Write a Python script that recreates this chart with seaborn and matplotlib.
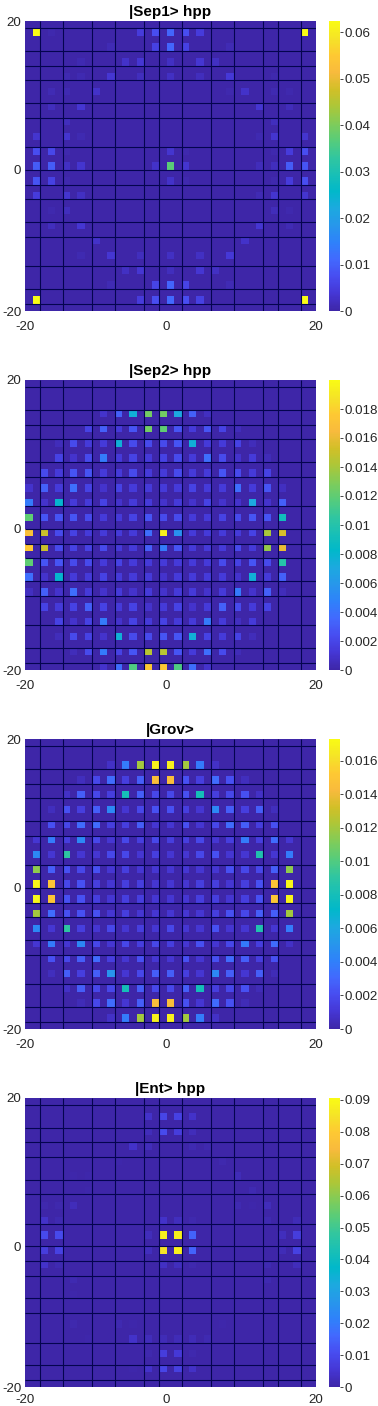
import numpy as np
import matplotlib
matplotlib.use('Agg')
import matplotlib.pyplot as plt
import seaborn as sns
from matplotlib.colors import LinearSegmentedColormap

# values are probabilities x 1000, one row per lit lattice row
sep1_vals = [
    [62.4,0.6,0,0,0,0,0,4.5,7.5,10.5,7.5,4.5,0,0,0,0,0,0,62.4],
    [0,0,0,0,0,1.2,0,0,5.5,10.5,5.5,0,0,1.2,0,0,0,0,0],
    [0,0,0,0.9,0,0,2.8,3.6,0,2.3,0,3.6,2.3,0,0,0,0,0,0],
    [0,0,0.9,0.9,0,3.6,0,1.9,0,2.3,0,1.9,0,4,0,0,0.6,0,0],
    [0,1.2,0.9,0,2.8,0,0,0,0,0,0,0,0,0.6,2.8,0,0.9,0.6,0],
    [0,1.9,0,3.6,0,0,0,0,0,0,0,0,0,0,0,3.6,0,1.5,0],
    [0,0,1.9,0,0,0,0,0,0,0,0,0,0,0,0,0,1.9,0,0],
    [3.2,0,3.2,0.9,0,0,0,0,0,0,0,0,0,0,0,0.9,3.2,0,3.2],
    [7.5,6.5,0.6,0,0,0,0,0,0,3.2,0.6,0,0,0,0,0,0.6,4.5,7.5],
    [9.5,9.5,2.3,3.2,0,0,0,0,2.8,37,3.2,0,0,0,0,1.5,1.9,9.5,8.5],
    [8.5,5.5,0.6,0,0,0,0,0,0,2.8,0.6,0,0,0,0,0,0.6,4.5,7.5],
    [4.5,0,3.2,2.3,0,0,0,0,0,0,0,0,0,0,0,1.2,3.2,0,3.2],
    [0,0.6,1.9,0,0,0,0,0,0,0,0,0,0,0,0,0,1.5,0.6,0],
    [0,1.9,0,3.6,0,0,0,0,0,0,0,0,0,0,0,3.6,0,1.2,0],
    [0,0,0,0,2.8,0,0,0,0,0,0,0,0,0,2.8,0,0,0,0],
    [0,0,0,0.9,0,3.6,0,1.9,0,2.3,0,2.3,0,4,0,0,0,0,0],
    [0,0,0,0,0,0,2.3,3.6,0,1.9,0,3.6,2.3,0,0,0,0,0,0],
    [0,0,0,0,0,1.2,0,0,6,10.5,6,0,0,1.2,0,0,0,0,0],
    [62.4,0,0,0,0,0,0,4.5,7.5,11,7.5,5.5,0,0,0,0,0,0,62.4],
]
sep2_vals = [
    [0]*20,
    [0]*20,
    [0,0,0,0,0,1,3.2,7.5,12.5,12.5,7,3.2,0.7,0,0,0,0,0,0,0],
    [0,0,0,0,1.8,3.2,1.4,2.7,12.5,12,2.7,1.4,2.7,1.8,0.5,0,0,0,0,0],
    [0,0,0.5,2.2,1.4,1.4,7.5,2.2,2.2,2.2,2.7,7.5,1.4,1.4,1.8,0.5,0,0,0,0],
    [0,0,1.8,1,2.2,4.4,1.4,1.8,1.4,1.8,2.2,1.4,3.8,2.2,1,1.4,0.4,0,0,0],
    [0,2.2,1.4,2.7,2.7,1.4,1.4,2.2,1.4,1.4,2.2,1.4,1.4,2.7,2.2,1.4,1.8,0,0,0],
    [1,3.2,1.4,3.8,1.8,1,1.8,1.4,1.4,1.4,1.4,1.8,1.4,1.4,3.8,1.4,2.7,0.7,0,0],
    [4.4,1,8,1.4,1.4,1.8,1,1.4,1.4,1,1.4,1,1.8,1,1,7,1,3.2,0,0],
    [12,2.7,2.7,2.7,2.2,1.4,1.4,1.8,2.7,2.2,2.2,1.4,1.4,1.8,2.2,2.7,2.7,9,0,0],
    [17,15,2.2,1.8,1.4,1.4,1.4,1.4,3.8,19.5,5.6,1.4,1.4,1.4,1.4,1.8,14,15.5,0,0],
    [17.5,15,2.2,1.8,1.8,2.2,1.4,1.4,3.2,4.4,2.7,1.4,1.4,1.4,2.2,1.4,13.5,16,0,0],
    [12,2.7,2.7,2.2,2.2,1.4,1.8,1.4,1.4,1.4,1.4,1.4,1.4,2.2,1.8,2.7,2.2,10,0,0],
    [3.8,1,8,1.4,1.4,1.8,1.4,1.4,1.4,1,1.4,1.4,1.4,1.4,1,7.5,1.4,3.2,0,0],
    [0.7,3.2,1,3.8,1.4,1,1.4,1,1.4,1,1.4,1.4,1,1.4,4.4,1,3.2,0.5,0,0],
    [0,1.8,1.4,1.8,3.2,1.8,1.4,1.8,1,1.4,1.8,1,1.4,3.2,2.2,1.4,1.8,0,0,0],
    [0,0,1.8,1,1.8,4.4,1,1.8,1.4,1.8,1.4,1.4,4.4,1.4,0.7,1.4,0,0,0,0],
    [0,0,0.5,2.2,1.8,1,7.5,2.2,2.2,2.7,2.7,7.5,1.8,1.4,1.8,0.5,0,0,0,0],
    [0,0,0,0.5,2.2,4.4,1.8,2.7,14.5,14.5,2.7,1.4,3.8,2.2,0.4,0,0,0,0,0],
    [0,0,0,0,0,1,3.8,11.5,17.5,17.5,11.5,3.8,1,0,0,0,0,0,0,0],
]
grov_vals = [
    [0]*19,
    [0,0,0,0,0,0.7,3.8,12,16.8,16.8,12,3.8,0.7,0,0,0,0,0,0],
    [0,0,0,0.5,1.8,3.2,1.4,2.7,14.5,14.5,2.2,1.4,3.2,2.2,0.5,0,0,0,0],
    [0,0,0.7,2.7,1.8,1.4,8,2.7,1.8,1.8,2.2,8,1.4,1.8,2.2,0.7,0,0,0],
    [0,0.5,2.2,1.4,2.7,4.4,1,1.8,2.2,2.2,1.4,1,4.4,2.7,1.4,2.7,0.5,0,0],
    [0,2.2,1.8,3.2,3.2,1.4,1.4,2.7,1,1,2.2,1,1.8,3.2,2.7,1.4,2.2,0,0],
    [1,3.8,1.4,4.4,1.8,1,1.8,1.4,1.8,1.4,1.4,1.8,1,1.4,3.8,1.4,3.2,1,0],
    [4.4,1,9,1,1,1.8,1.8,1,1.4,1,1,1.8,2.2,1,1,8.5,1,3.8,0],
    [11.5,2.7,2.2,1.8,2.2,1,1.4,1,1,1,1,1,1,2.2,1.8,1.8,2.7,11.5,0],
    [17,15,1.8,2.2,1.4,1,1.4,1.4,1,1,1,1.4,1.4,1,1.4,2.2,15,17,0],
    [17,15,2.2,2.2,1.4,1,1.4,1.4,1,1,1,1.4,1.4,1,1.4,2.2,15,17,0],
    [12,3.2,2.2,2.2,2.2,1,1.4,1,1,1,1,1,1.4,2.2,1.8,2.7,2.7,12,0],
    [4.4,1,9,1.4,1,1.8,1,1.4,1,1.8,1,1,2.2,1,1,8.5,1,3.8,0],
    [1,3.8,1,4.4,1.8,1,1.8,1.4,1.8,1.4,1,2.2,1,1.8,3.8,1.4,3.2,0.7,0],
    [0,2.2,1.8,2.7,3.2,1.4,1,2.2,1,1,2.2,1,2.2,3.2,2.7,1.4,2.2,0,0],
    [0,0.5,2.7,1.4,2.7,5,1,1.8,2.7,2.7,1.4,1,4.4,2.7,1,2.7,0.4,0,0],
    [0,0,0.7,2.7,1.8,1.8,8,2.7,1.8,1.8,2.7,8,1.4,1.8,2.2,0.4,0,0,0],
    [0,0,0,0.4,1.8,3.2,1,2.7,14.5,14.5,2.2,1,3.2,2.2,0.4,0,0,0,0],
    [0,0,0,0,0,0.7,3.8,12,16.8,16.8,12,3.8,0.7,0,0,0,0,0,0],
]
ent_vals = [
    [0]*20,
    [0,0,0,0,0,0,0,0,4,9,8,4,0,0,0,0,0,0,0,0],
    [0,0,0,0,0,0,0,0,2.2,10,7,2.2,0,0,0,0,0,0,0,0],
    [0,0,0,0,0,0,0,4,2.2,0,0,1.4,1,0,0,0,0,0,0,0],
    [0,0,0,0,0,0,0.7,0,0,0,0,0,0,1,0,0,0,0,0,0],
    [0,0,0,0.7,0.7,0,0,0,0,0,0,0,0,0,1.8,0,0,0,0,0],
    [0,0,0,0,0.7,0,0,0,0,0,0,0,0,0,0,1.4,0,0,0,0],
    [0,1,1,2.2,0,0,0,0,0,0,0,0,0,0,1.4,0.7,2.2,0,0,0],
    [0,4,1.4,0,0,0,0,0,0,4,2.7,1,0,0,0,0,1.4,0,1.8,0],
    [0,10,10,0,0,0,0,0,2.2,88,88,15,0,0,0,0,0,2.7,7,0],
    [0,7,8,0,0,0,0,0,2.7,85,88,15,0,0,0,0,0,1.8,8,0],
    [0,4,1.4,0,0,0,0,0,0,3.2,2.7,1,0,0,0,0,1.4,0,2.2,0],
    [0,0,0,1.4,0,0,0,0,0,0,0,0,0,0,0,0,1.4,0,0,0],
    [0,0,0,0.7,0,0,0,0,0,0,0,0,0,0,0,0,0,0,0,0],
    [0]*20,
    [0,0,0,1,0,0,1.4,0.7,0,0,0,0,0,0.7,0,0,0,0,0,0],
    [0,0,0,0,0.7,0,0,4,2.2,1.8,1.8,1.8,1.4,0,0,0,0,0,0,0],
    [0,0,0,0,0,0,0,0,1,7,6,1,0,0,0,0,0,0,0,0],
    [0,0,0,0,0,0,0,0.7,4,9,7.5,3.6,0,0,0,0,0,0,0,0],
    [0]*20,
]

titles = ['|Sep1> hpp', '|Sep2> hpp', '|Grov>', '|Ent> hpp']
vmaxs = [0.0624, 0.02, 0.0173, 0.0906]
cbar_ticks = [
    [0, 0.01, 0.02, 0.03, 0.04, 0.05, 0.06],
    [0, 0.002, 0.004, 0.006, 0.008, 0.01, 0.012, 0.014, 0.016, 0.018],
    [0, 0.002, 0.004, 0.006, 0.008, 0.01, 0.012, 0.014, 0.016],
    [0, 0.01, 0.02, 0.03, 0.04, 0.05, 0.06, 0.07, 0.08, 0.09],
]

# parula, every 4th entry of the 64 step table
parula = LinearSegmentedColormap.from_list('parula', [
    (0.2422,0.1504,0.6603), (0.2706,0.2147,0.8364), (0.2813,0.3006,0.9414),
    (0.2602,0.4123,0.9952), (0.1834,0.5074,0.9798), (0.1540,0.5902,0.9218),
    (0.1113,0.6635,0.8763), (0.0036,0.7203,0.7917), (0.0964,0.7500,0.7120),
    (0.1938,0.7758,0.6251), (0.3406,0.8008,0.4789), (0.5044,0.7993,0.3480),
    (0.6720,0.7793,0.2227), (0.8203,0.7498,0.1535), (0.9728,0.7294,0.2394),
    (0.9952,0.7861,0.1996), (0.9610,0.8902,0.1537), (0.9769,0.9839,0.0805),
], N=256)

sns.set_theme(style='white')
plt.rcParams['font.family'] = ['Liberation Sans', 'DejaVu Sans']

W, H = 378, 1406
fig = plt.figure(figsize=(W/100, H/100), dpi=100)

N = 39
# the aliased dark mesh lines survive only on these cell edges
mesh_x = [2, 5, 9, 12, 16, 18, 21, 25, 28, 32, 34, 37]
mesh_y = [1, 4, 6, 8, 11, 13, 17, 20, 22, 24, 27, 29, 33, 36, 38]

panels = [(sep1_vals, 1, 1, 21, 311), (sep2_vals, 0, 0, 380, 670),
          (grov_vals, 1, 1, 739, 1029), (ent_vals, 0, 0, 1098, 1387)]

for k, (vals, r0, c0, top, bot) in enumerate(panels):
    grid = np.zeros((N, N))
    grid[np.ix_(range(r0, N, 2), range(c0, N, 2))] = np.array(vals, dtype=float) / 1000

    ax = fig.add_axes([25.3/W, 1 - bot/H, 290.2/W, (bot - top)/H])
    cax = fig.add_axes([329/W, 1 - bot/H, 10.5/W, (bot - top)/H])
    sns.heatmap(grid, ax=ax, cbar_ax=cax, cmap=parula, vmin=0, vmax=vmaxs[k],
                xticklabels=False, yticklabels=False)

    ax.hlines(mesh_y, 0, N, color='#04044f', lw=0.8)
    ax.vlines(mesh_x, 0, N, color='#04044f', lw=0.8)

    # the zero ticks sit half a cell off the middle in the reference
    ax.set_xticks([0, 19, N])
    ax.set_xticklabels(['-20', '0', '20'], rotation=0)
    ax.set_yticks([0, 20, N])
    ax.set_yticklabels(['20', '0', '-20'], rotation=0)
    ax.tick_params(axis='both', length=0, labelsize=9.6, colors='#262626')
    # last panel sits closer to the bottom edge
    ax.tick_params(axis='x', pad=7.5 if k < 3 else 5)
    ax.tick_params(axis='y', pad=3)
    ax.set_title(titles[k], fontsize=11, fontweight='bold', color='black', pad=3.5)

    cbar = ax.collections[0].colorbar
    cbar.set_ticks(cbar_ticks[k])
    cbar.set_ticklabels([f'{t:g}' for t in cbar_ticks[k]])
    cbar.outline.set_visible(False)
    cax.tick_params(length=2, width=0.6, direction='out', pad=1.5, labelsize=9.6,
                    color='#262626', labelcolor='#262626')

fig.savefig('out.png', dpi=100)
